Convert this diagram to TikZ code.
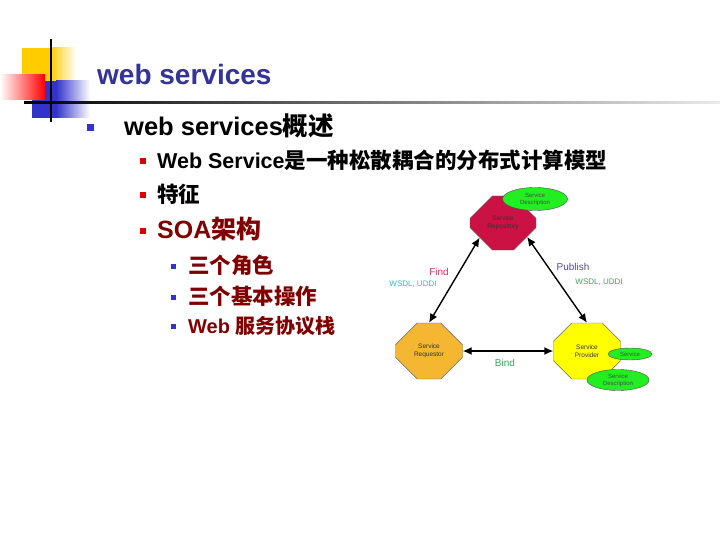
\documentclass[tikz,border=0pt]{standalone}
\usepackage{fontspec}
\setmainfont{Liberation Sans}
\newfontfamily\cjk{Noto Sans CJK SC}
\usetikzlibrary{arrows.meta,shapes.misc,shapes.geometric}
\definecolor{navy}{RGB}{51,51,153}
\definecolor{darkred}{RGB}{128,0,0}
\definecolor{logoyellow}{RGB}{255,204,0}
\definecolor{logoblue}{RGB}{51,51,204}
\definecolor{repored}{RGB}{204,17,68}
\definecolor{reqorange}{RGB}{245,183,49}
\definecolor{provyellow}{RGB}{255,255,0}
\definecolor{descgreen}{RGB}{34,238,34}
\definecolor{findcol}{RGB}{204,51,102}
\definecolor{pubcol}{RGB}{85,68,170}
\definecolor{tealcol}{RGB}{51,187,187}
\definecolor{bindcol}{RGB}{51,170,85}
\newcommand\zh[1]{{\cjk\bfseries #1}}
\tikzset{
  txt/.style={anchor=base west,inner sep=0pt},
  bulletA/.style={fill=logoblue,minimum size=7pt,inner sep=0pt},
  bulletB/.style={fill=red!85!black,minimum size=6pt,inner sep=0pt},
  bulletC/.style={fill=logoblue,minimum size=5pt,inner sep=0pt},
  role/.style={chamfered rectangle,draw=black!60,minimum width=67pt,minimum height=56pt,
    chamfered rectangle xsep=18pt,chamfered rectangle ysep=16pt,inner sep=0pt,
    align=center,font=\fontsize{6.5}{7.5}\selectfont,text=black!80},
  desc/.style={ellipse,draw=black!70,fill=descgreen,inner sep=0pt,align=center,
    font=\fontsize{6}{7}\selectfont,text=black!70},
  op/.style={{Latex[length=9pt,width=8pt]}-{Latex[length=9pt,width=8pt]},line width=1.4pt},
  lbl/.style={inner sep=0pt,font=\fontsize{10}{12}\selectfont},
  small/.style={inner sep=0pt,font=\fontsize{8}{10}\selectfont}
}
\begin{document}
\begin{tikzpicture}[x=1pt,y=-1pt]
\useasboundingbox (0,0) rectangle (720,540);

\fill[logoyellow] (22,48) rectangle (50,81);
\shade[left color=logoyellow,right color=white] (50,48) rectangle (76,81);
\fill[logoblue] (32,81) rectangle (56,118);
\shade[left color=logoblue,right color=white] (56,81) rectangle (90,118);
\shade[left color=white,right color=red] (0,75) rectangle (45,100);
\fill[black] (50,39) rectangle (52,122);
\shade[left color=black,right color=black!8] (24,102) rectangle (720,104);

\node[txt,text=navy,font=\fontsize{28}{30}\selectfont\bfseries] (title) at (97,85) {web services};

\node[bulletA] (b1) at (90,128) {};
\node[txt,font=\fontsize{25.5}{28}\selectfont\bfseries] (l1) at (124,136) {web services\zh{概述}};

\node[bulletB] (b2a) at (143,161) {};
\node[txt,font=\fontsize{21.5}{24}\selectfont\bfseries] (l2a) at (157,169) {Web Service\zh{是一种松散耦合的分布式计算模型}};
\node[bulletB] (b2b) at (143,195) {};
\node[txt,font=\fontsize{21.5}{24}\selectfont\bfseries] (l2b) at (157,203) {\zh{特征}};
\node[bulletB] (b2c) at (143,231) {};
\node[txt,text=darkred,font=\fontsize{25}{28}\selectfont\bfseries] (l2c) at (157,239) {SOA\zh{架构}};

\node[bulletC] (b3a) at (173,266) {};
\node[txt,text=darkred,font=\fontsize{21.5}{24}\selectfont\bfseries] (l3a) at (188,273) {\zh{三个角色}};
\node[bulletC] (b3b) at (173,297) {};
\node[txt,text=darkred,font=\fontsize{21.5}{24}\selectfont\bfseries] (l3b) at (188,304) {\zh{三个基本操作}};
\node[bulletC] (b3c) at (173,326) {};
\node[txt,text=darkred,font=\fontsize{20}{22}\selectfont\bfseries] (l3c) at (188,333) {Web \zh{服务协议栈}};

\node[role,fill=repored,minimum width=66pt,minimum height=54pt] (repo) at (503,223) {Service\\Repository};
\node[desc,minimum width=65pt,minimum height=23pt] (desc1) at (535,199) {Service\\Description};
\node[role,fill=reqorange] (req) at (429,351) {Service\\Requestor};
\node[role,fill=provyellow] (prov) at (587,351) {Service\\Provider};
\node[desc,minimum width=44pt,minimum height=12pt] (svc) at (630,354) {Service};
\node[desc,minimum width=62pt,minimum height=21pt] (desc2) at (618,380) {Service\\Description};

\draw[op] (repo.212) -- (req.north);
\draw[op] (repo.330) -- (prov.north);
\draw[op] (req.east) -- (prov.west);

\node[lbl,text=findcol] (find) at (439,272) {Find};
\node[small,text=tealcol] (wsdl1) at (413,284) {WSDL, UDDI};
\node[lbl,text=pubcol] (publish) at (573,267) {Publish};
\node[small,text=bindcol] (wsdl2) at (599,282) {WSDL, UDDI};
\node[lbl,text=bindcol] (bind) at (505,363) {Bind};

\end{tikzpicture}
\end{document}
